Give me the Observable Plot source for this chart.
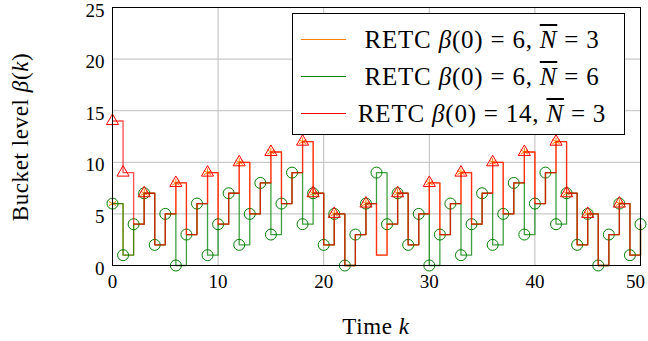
<!DOCTYPE html>
<html>
<head>
<meta charset="utf-8">
<script src="https://cdn.jsdelivr.net/npm/d3@7"></script>
<script src="https://cdn.jsdelivr.net/npm/@observablehq/plot@0.6"></script>
<style>
  html, body { margin: 0; padding: 0; background: white; }
  #wrap { position: relative; width: 648px; height: 341px; font-family: "Liberation Serif", serif; color: black; }
  #wrap svg, #wrap svg text, #wrap svg g { font-family: "Liberation Serif", serif !important; }
  #legend { position: absolute; left: 292px; top: 13px; width: 333px; height: 122px; box-sizing: border-box;
            border: 1px solid black; background: white; padding-top: 7px; font-size: 25px; letter-spacing: 0.8px; }
  .row { display: flex; align-items: center; height: 37px; }
  .sample { width: 45px; margin-left: 8px; height: 0; }
  .ltxt { flex: 1; text-align: center; white-space: nowrap; margin-right: 6px; }
  .ov { text-decoration: overline; font-style: italic; }
  .eq { margin: 0 0.28em; }
  i { font-style: italic; }
  #ylab { position: absolute; left: 21px; top: 137px; transform: translate(-50%, -50%) rotate(-90deg); font-size: 23px; letter-spacing: 0.6px; white-space: nowrap; }
  #xlab { position: absolute; left: 376px; top: 327px; transform: translate(-50%, -50%); font-size: 23px; letter-spacing: 0.6px; white-space: nowrap; }
</style>
</head>
<body>
<div id="wrap"></div>
<script>
// Time steps
const K = d3.range(0, 51);
// RETC beta(0)=6, N=3
const orangeVals = [6,1,4,7,2,5,8,3,6,9,4,7,10,5,8,11,6,9,12,7,2,5,0,3,6,1,4,7,2,5,8,3,6,9,4,7,10,5,8,11,6,9,12,7,2,5,0,3,6,1,4];
// RETC beta(0)=6, N=6
const greenVals = [6,1,4,7,2,5,0,3,6,1,4,7,2,5,8,3,6,9,4,7,2,5,0,3,6,9,4,7,2,5,0,3,6,1,4,7,2,5,8,3,6,9,4,7,2,5,0,3,6,1,4];
// RETC beta(0)=14, N=3
const redVals = [14,9,4,7,2,5,8,3,6,9,4,7,10,5,8,11,6,9,12,7,2,5,0,3,6,1,4,7,2,5,8,3,6,9,4,7,10,5,8,11,6,9,12,7,2,5,0,3,6,1,4];
// steps carrying a marker
const orangeMarkK = [0,3,6,9,12,15,18,19,21,24,27,30,33,36,39,42,43,45,48];
const redMarkK = [0,1,3,6,9,12,15,18,19,21,24,27,30,33,36,39,42,43,45,48];
const xTicks = [0,10,20,30,40,50];
const yTicks = [0,5,10,15,20,25];
const seriesNames = ["RETC β(0) = 6, N = 3", "RETC β(0) = 6, N = 6", "RETC β(0) = 14, N = 3"];
const colors = ["rgb(255,128,0)", "rgb(0,128,0)", "rgb(255,0,0)"];
const serif = "Liberation Serif";

const toRows = vals => K.map(k => ({k, v: vals[k]}));
const orangeData = toRows(orangeVals);
const greenData = toRows(greenVals);
const redData = toRows(redVals);
const orangeMarks = orangeMarkK.map(k => ({k, v: orangeVals[k]}));
const redMarks = redMarkK.map(k => ({k, v: redVals[k]}));
const lastX = xTicks[xTicks.length - 1];

const chart = Plot.plot({
  width: 648, height: 341,
  marginLeft: 112, marginRight: 8, marginTop: 7, marginBottom: 76,
  style: {fontFamily: serif, fontSize: "19px", background: "white", color: "black", overflow: "visible"},
  x: {domain: [0, 50]},
  y: {domain: [0, 25]},
  marks: [
    Plot.gridX(xTicks, {stroke: "#bdbdbd", strokeOpacity: 1}),
    Plot.gridY(yTicks, {stroke: "#bdbdbd", strokeOpacity: 1}),
    Plot.line(orangeData, {x: "k", y: "v", curve: "step-after", stroke: colors[0], strokeWidth: 1.3, strokeOpacity: 0.75}),
    Plot.dot(orangeMarks, {x: "k", y: "v", symbol: "asterisk", stroke: colors[0], r: 4, strokeWidth: 1}),
    Plot.line(greenData, {x: "k", y: "v", curve: "step-after", stroke: colors[1], strokeWidth: 1.3, strokeOpacity: 0.75}),
    Plot.dot(greenData, {x: "k", y: "v", symbol: "circle", stroke: colors[1], r: 5.5, strokeWidth: 1}),
    Plot.line(redData, {x: "k", y: "v", curve: "step-after", stroke: colors[2], strokeWidth: 1.3, strokeOpacity: 0.7}),
    Plot.dot(redMarks, {x: "k", y: "v", symbol: "triangle", stroke: colors[2], r: 4.5, strokeWidth: 1}),
    Plot.frame({stroke: "black", strokeWidth: 1}),
    Plot.axisX(xTicks.filter(t => t !== lastX), {tickSize: 0, tickPadding: 9, label: null, fontSize: 19, fontFamily: serif}),
    Plot.axisX([lastX], {tickSize: 0, tickPadding: 9, dx: -5, label: null, fontSize: 19, fontFamily: serif}),
    Plot.axisY({ticks: yTicks, tickSize: 0, tickPadding: 8, dy: 3, label: null, fontSize: 19, fontFamily: serif})
  ]
});

d3.select(chart).selectAll("text").style("font-family", "'Liberation Serif', serif");

const wrap = document.getElementById("wrap");
wrap.appendChild(chart);

// Legend
const legend = document.createElement("div");
legend.id = "legend";
const legendHTML = [
  'RETC <i>β</i>(0)<span class="eq">=</span>6, <span class="ov">N</span><span class="eq">=</span>3',
  'RETC <i>β</i>(0)<span class="eq">=</span>6, <span class="ov">N</span><span class="eq">=</span>6',
  'RETC <i>β</i>(0)<span class="eq">=</span>14, <span class="ov">N</span><span class="eq">=</span>3'
];
seriesNames.forEach((name, i) => {
  const row = document.createElement("div");
  row.className = "row";
  row.title = name;
  const s = document.createElement("span");
  s.className = "sample";
  s.style.borderTop = "1px solid " + colors[i];
  const t = document.createElement("span");
  t.className = "ltxt";
  t.innerHTML = legendHTML[i];
  row.appendChild(s); row.appendChild(t);
  legend.appendChild(row);
});
wrap.appendChild(legend);

const ylab = document.createElement("div");
ylab.id = "ylab";
ylab.innerHTML = 'Bucket level <i>β</i>(<i>k</i>)';
wrap.appendChild(ylab);

const xlab = document.createElement("div");
xlab.id = "xlab";
xlab.innerHTML = 'Time <i>k</i>';
wrap.appendChild(xlab);
</script>
</body>
</html>
